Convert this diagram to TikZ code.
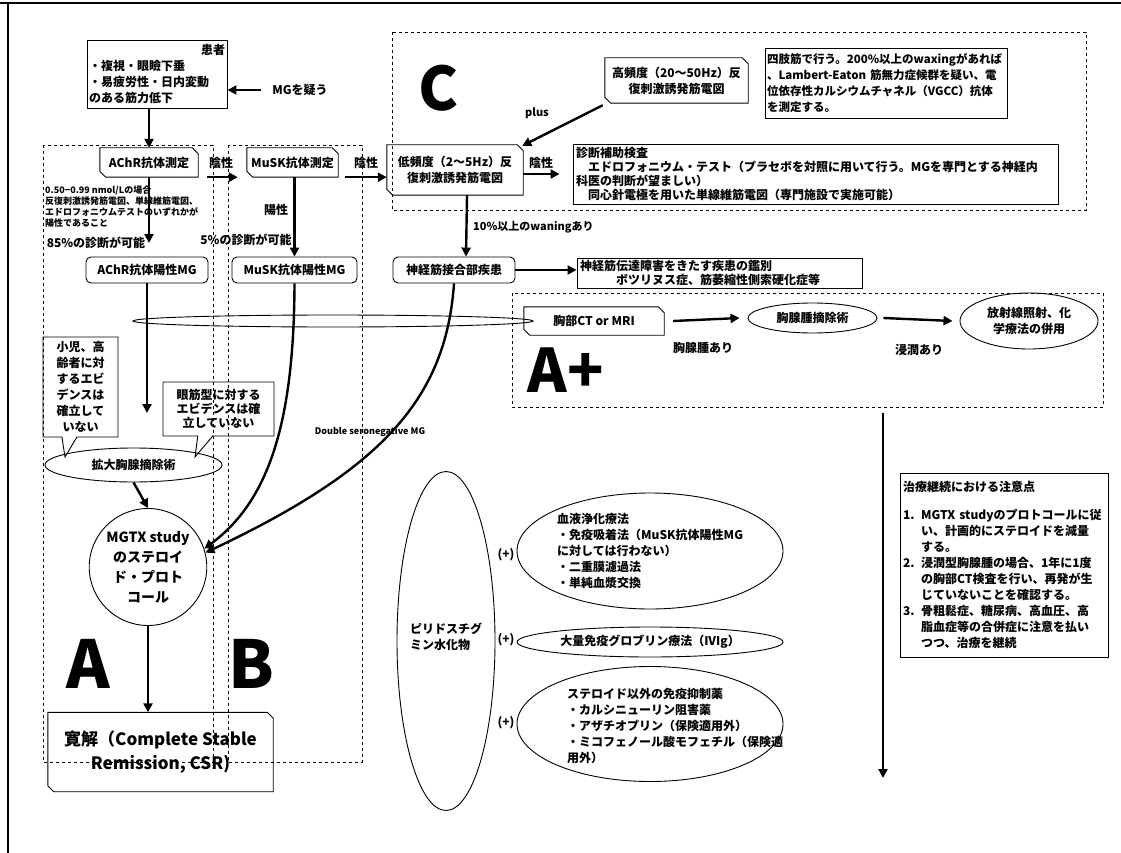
\documentclass[tikz,border=0pt]{standalone}
\usepackage{fontspec}
\setmainfont{Noto Sans CJK JP}
\usetikzlibrary{shapes.geometric,shapes.callouts,arrows.meta,positioning,calc}
% box with the top right and bottom left corners cut off
\newcommand\snipframe[1]{%
  \draw[line width=0.9pt] ([xshift=6pt]#1.south west) -- (#1.south east)
    -- ([yshift=-6pt]#1.north east) -- ([xshift=-6pt]#1.north east)
    -- (#1.north west) -- ([yshift=6pt]#1.south west) -- cycle;}

\begin{document}
\begin{tikzpicture}[x=1pt,y=-1pt,
    every node/.style={font=\fontsize{12}{16}\selectfont\bfseries, inner sep=1pt},
    plainbox/.style={draw, line width=0.9pt, inner sep=2pt},
    roundbox/.style={draw, line width=0.9pt, rounded corners=5pt},
    snipbox/.style={rectangle, inner sep=2pt},
    oval/.style={draw, ellipse, line width=0.9pt, inner sep=0pt},
    talk/.style={draw, rectangle callout, line width=0.9pt, align=center,
        callout pointer width=15pt},
    region/.style={draw, dashed, line width=0.8pt},
    arr/.style={line width=2.4pt, -{Triangle[length=9pt,width=9pt]}},
    small/.style={font=\fontsize{9}{11}\selectfont\bfseries},
    letter/.style={font=\fontsize{#1}{#1}\selectfont\bfseries},
]
    \useasboundingbox (0,0) rectangle (1121,853);
    % page frame
    \draw[line width=1.6pt] (0,3) -- (1121,3);
    \draw[line width=1.6pt] (8,3) -- (8,853);

    % dashed regions
    \draw[region] (43,145) rectangle (213,762);
    \draw[region] (228,145) rectangle (362,762);
    \draw[region] (392,32) rectangle (1086,210);
    \draw[region] (512,293) rectangle (1103,407);
    \node[letter=60] (letC) at (439,88) {C};
    \node[letter=66] (letA) at (88,664) {A};
    \node[letter=66] (letB) at (251,664) {B};
    \node[letter=60] (letAp) at (566,370) {A+};

    % patient
    \node[plainbox, minimum width=140pt, minimum height=68pt, text width=136pt,
        align=left] (patient) at (157,74)
        {\hspace*{\fill}患者\hspace*{\fill}\\・複視・眼瞼下垂\\・易疲労性・日内変動\\のある筋力低下};
    \node (doubt) at (300,90) {MGを疑う};
    \draw[arr] ([xshift=-10pt]doubt.west) -- (patient.east |- doubt.west);

    % antibody tests
    \node[snipbox, minimum width=98pt, minimum height=29pt] (achr) at (149,162.5) {AChR抗体測定};
    \node[snipbox, minimum width=91pt, minimum height=29pt] (musk) at (292.5,162.5) {MuSK抗体測定};
    \snipframe{achr}
    \snipframe{musk}
    \draw[arr] (achr.north |- patient.south) -- (achr.north);
    \draw[arr] ([xshift=9pt]achr.south east) -- ([xshift=-9pt]musk.south west);
    \node (neg1) at (221,163) {陰性};
    \node[small, align=left, anchor=west] (cutoff) at (44,207)
        {0.50−0.99 nmol/Lの場合\\反復刺激誘発筋電図、単線維筋電図、\\エドロフォニウムテストのいずれかが\\陽性であること};
    \coordinate (achrtip) at (149,243);
    \draw[arr] (achr.south) -- (achrtip);
    \node (rate1) at (96,243) {85\%の診断が可能};
    \node[roundbox, minimum width=122pt, minimum height=26pt] (achrmg) at (147,270) {AChR抗体陽性MG};
    \node[roundbox, minimum width=125pt, minimum height=26pt] (muskmg) at (294.5,270) {MuSK抗体陽性MG};
    \draw[arr] (muskmg.north |- musk.south) -- (muskmg.north);
    \node (pos1) at (276,210) {陽性};
    \node (rate2) at (246,240) {5\%の診断が可能};

    % region C
    \node[snipbox, minimum width=136pt, minimum height=50pt, align=center] (low) at (455,170)
        {低頻度（2〜5Hz）反\\復刺激誘発筋電図};
    \snipframe{low}
    \draw[arr] ([xshift=7pt]musk.south east) -- (musk.south east -| low.west);
    \node (neg2) at (366,163) {陰性};
    \node[snipbox, minimum width=143pt, minimum height=45pt, align=center] (high) at (676.5,80.5)
        {高頻度（20〜50Hz）反\\復刺激誘発筋電図};
    \snipframe{high}
    \draw[arr] ([shift={(-2pt,-2pt)}]high.south west) -- ([shift={(-1pt,-1pt)}]low.north east);
    \node[font=\fontsize{11}{13}\selectfont\bfseries] (plus) at (537,113) {plus};
    \node[plainbox, minimum width=242pt, minimum height=70pt, text width=238pt, align=left,
        font=\fontsize{11.5}{16}\selectfont\bfseries] (limb) at (886,83)
        {\mbox{四肢筋で行う。200\%以上のwaxingがあれば}\\\mbox{、Lambert-Eaton 筋無力症候群を疑い、電}\\\mbox{位依存性カルシウムチャネル（VGCC）抗体}\\を測定する。};
    \node[plainbox, minimum width=485pt, minimum height=60pt, text width=479pt, align=left,
        font=\fontsize{12}{14}\selectfont\bfseries] (aux) at (815.5,174)
        {診断補助検査\\　エドロフォニウム・テスト（プラセボを対照に用いて行う。MGを専門とする神経内\\科医の判断が望ましい）\\　同心針電極を用いた単線維筋電図（専門施設で実施可能）};
    \draw[arr] (low.east |- aux.west) -- ([xshift=-13pt]aux.west);
    \node (neg3) at (541,163) {陰性};

    % neuromuscular junction
    \node[roundbox, minimum width=122pt, minimum height=26pt] (nmj) at (454,270) {神経筋接合部疾患};
    \draw[arr] ([xshift=12pt]low.south) -- ([xshift=12pt]nmj.north);
    \node[font=\fontsize{11}{13}\selectfont\bfseries, anchor=west] (wane) at (472,227) {10\%以上のwaningあり};
    \node[plainbox, minimum width=285pt, minimum height=30pt, text width=279pt, align=left,
        font=\fontsize{12}{14}\selectfont\bfseries] (diff) at (719.5,273)
        {神経筋伝達障害をきたす疾患の鑑別\\　　　ボツリヌス症、筋萎縮性側索硬化症等};
    \draw[arr] (nmj.east) -- (nmj.east -| diff.west);

    % region A+
    \node[oval, minimum width=400pt, minimum height=12pt] (lens) at (333,321) {};
    \node[snipbox, minimum width=140pt, minimum height=28pt] (ct) at (594,321) {胸部CT or MRI};
    \snipframe{ct}
    \node[oval, minimum width=129pt, minimum height=30pt] (thym) at (812.5,318) {胸腺腫摘除術};
    \node[oval, minimum width=138pt, minimum height=56pt, align=center] (radio) at (1029,321)
        {放射線照射、化\\学療法の併用};
    \draw[arr] ([xshift=9pt]ct.east) -- ([xshift=-8pt]thym.west);
    \draw[arr] ([xshift=6pt]thym.east) -- ([xshift=-7pt]radio.west);
    \node (tumor) at (703,348) {胸腺腫あり};
    \node (invade) at (919,350) {浸潤あり};

    % thymectomy and steroid
    \coordinate (mgtip) at (147,413);
    \draw[arr] (achrmg.south) -- (mgtip);
    \node[talk, minimum width=75pt, minimum height=100pt, callout absolute pointer={(65,457)}] (kids)
        at (80.5,387) {小児、高\\齢者に対\\するエビ\\デンスは\\確立して\\いない};
    \node[talk, minimum width=111pt, minimum height=54pt, callout absolute pointer={(195,457)},
        font=\fontsize{12}{14}\selectfont\bfseries] (eye)
        at (218.5,409) {眼筋型に対する\\エビデンスは確\\立していない};
    \node[oval, minimum width=177pt, minimum height=34pt] (ext) at (133.5,465) {拡大胸腺摘除術};
    \node[oval, minimum width=117pt, minimum height=117pt, align=center,
        font=\fontsize{14}{20}\selectfont\bfseries] (mgtx) at (148,567)
        {MGTX study\\のステロイ\\ド・プロト\\コール};
    \draw[arr] (ext.south) -- (mgtx.north);
    \draw[arr] (muskmg.south) .. controls (294,420) and (270,500) .. (mgtx.18);
    \draw[arr] (nmj.south) .. controls (446,400) and (380,470) .. (mgtx.14);
    \node[small] (dsn) at (370,432) {Double seronegative MG};
    \node[snipbox, minimum width=225pt, minimum height=79pt, align=center,
        font=\fontsize{17}{24}\selectfont\bfseries] (csr) at (160.5,752)
        {寛解（Complete Stable\\Remission, CSR)};
    \snipframe{csr}
    \draw[arr] (mgtx.south) -- (mgtx.south |- csr.north);

    % additional therapy
    \node[oval, minimum width=98pt, minimum height=339pt] (pyr) at (446,641) {};
    \node[align=left] (pyrtxt) at (446,637) {ピリドスチグ\\ミン水化物};
    \node[oval, minimum width=266pt, minimum height=116pt] (plasma) at (650,551) {};
    \node[align=left, anchor=west] (plasmatxt) at (556,551)
        {血液浄化療法\\・免疫吸着法（MuSK抗体陽性MG\\に対しては行わない）\\・二重膜濾過法\\・単純血漿交換};
    \node[oval, minimum width=266pt, minimum height=30pt] (ivig) at (650,642) {大量免疫グロブリン療法（IVIg）};
    \node[oval, minimum width=266pt, minimum height=115pt] (immuno) at (650,724) {};
    \node[align=left, anchor=west] (immunotxt) at (566,726)
        {ステロイド以外の免疫抑制薬\\・カルシニューリン阻害薬\\・アザチオプリン（保険適用外）\\・ミコフェノール酸モフェチル（保険適\\用外）};
    \node (plus1) at (506,555) {(+)};
    \node (plus2) at (506,640) {(+)};
    \node (plus3) at (506,723) {(+)};

    % follow-up
    \coordinate (rtop) at (883,413);
    \coordinate (rbot) at (883,778);
    \draw[arr] (rtop) -- (rbot);
    \node[plainbox, minimum width=208pt, minimum height=184pt, text width=202pt, align=left] (notes)
        at (1004,565)
        {治療継続における注意点\\[12pt]
         \makebox[18pt][l]{1.}MGTX studyのプロトコールに従\\
         \hspace*{18pt}い、計画的にステロイドを減量\\
         \hspace*{18pt}する。\\
         \makebox[18pt][l]{2.}浸潤型胸腺腫の場合、1年に1度\\
         \hspace*{18pt}の胸部CT検査を行い、再発が生\\
         \hspace*{18pt}じていないことを確認する。\\
         \makebox[18pt][l]{3.}骨粗鬆症、糖尿病、高血圧、高\\
         \hspace*{18pt}脂血症等の合併症に注意を払い\\
         \hspace*{18pt}つつ、治療を継続};
\end{tikzpicture}
\end{document}
